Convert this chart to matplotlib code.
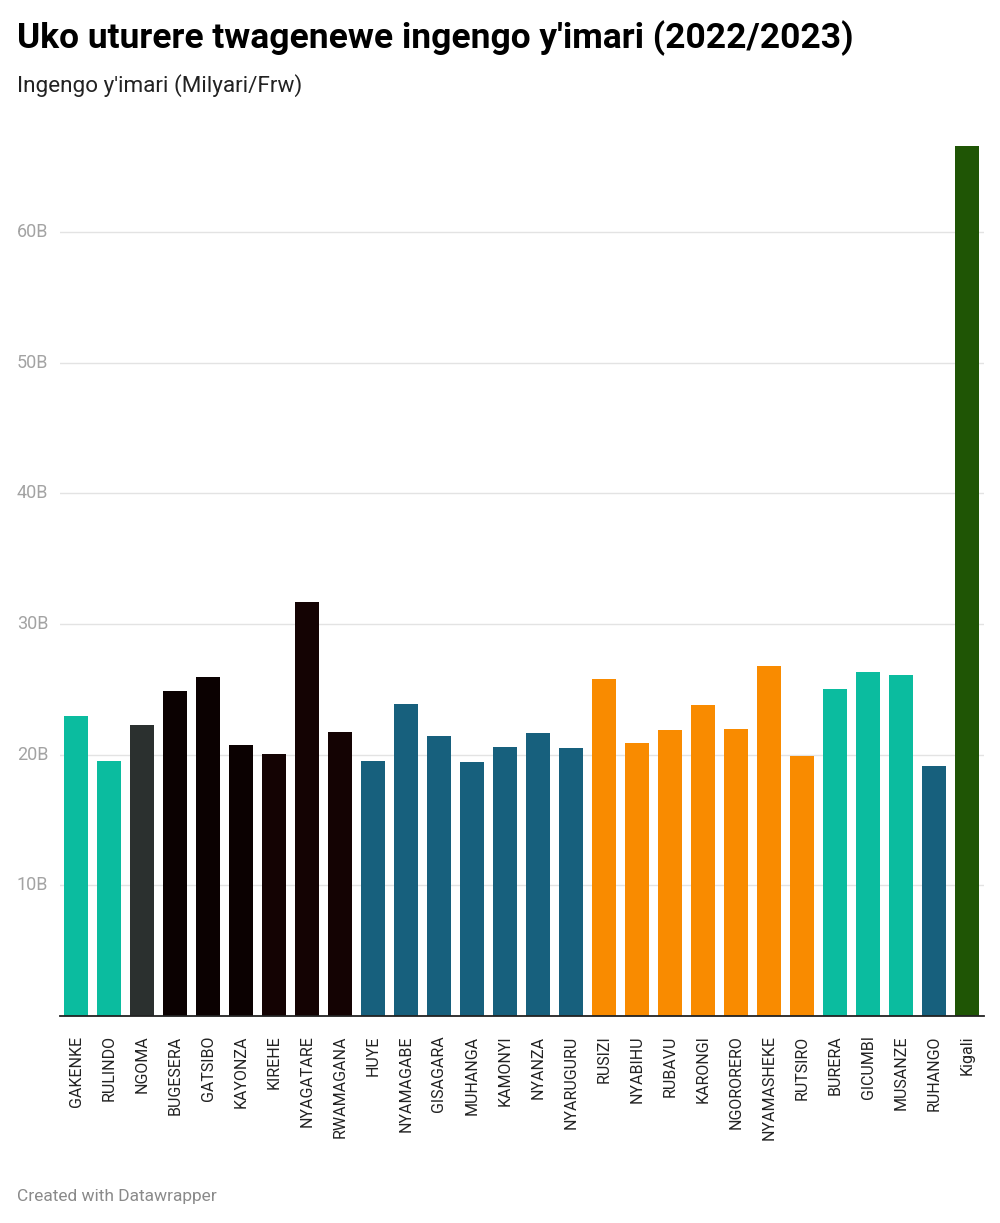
import matplotlib
matplotlib.use("Agg")
import matplotlib.pyplot as plt
import matplotlib.transforms as mtransforms
from matplotlib import font_manager

districts = ["GAKENKE", "RULINDO", "NGOMA", "BUGESERA", "GATSIBO", "KAYONZA", "KIREHE",
             "NYAGATARE", "RWAMAGANA", "HUYE", "NYAMAGABE", "GISAGARA", "MUHANGA", "KAMONYI",
             "NYANZA", "NYARUGURU", "RUSIZI", "NYABIHU", "RUBAVU", "KARONGI", "NGORORERO",
             "NYAMASHEKE", "RUTSIRO", "BURERA", "GICUMBI", "MUSANZE", "RUHANGO", "Kigali"]
budget_billions = [22.95, 19.5, 22.3, 24.9, 25.95, 20.7, 20.05,
                   31.7, 21.7, 19.5, 23.9, 21.45, 19.4, 20.6,
                   21.65, 20.5, 25.75, 20.9, 21.9, 23.8, 21.95,
                   26.8, 19.9, 25.05, 26.3, 26.1, 19.15, 66.6]
bar_colors = ["#0bbc9f", "#0bbc9f", "#2b302f", "#0b0101", "#0b0101", "#0b0101", "#140303",
              "#140303", "#140303", "#17607d", "#17607d", "#17607d", "#17607d", "#17607d",
              "#17607d", "#17607d", "#f98b00", "#f98b00", "#f98b00", "#f98b00", "#f98b00",
              "#f98b00", "#f98b00", "#0bbc9f", "#0bbc9f", "#0bbc9f", "#17607d", "#1f5505"]
y_ticks = [10, 20, 30, 40, 50, 60]
y_tick_labels = ["10B", "20B", "30B", "40B", "50B", "60B"]

title = "Uko uturere twagenewe ingengo y'imari (2022/2023)"
subtitle = "Ingengo y'imari (Milyari/Frw)"
footer = "Created with Datawrapper"

plt.rcParams['font.family'] = ['Roboto', 'DejaVu Sans']
avail = {f.name for f in font_manager.fontManager.ttflist}
narrow = 'Liberation Sans Narrow' if 'Liberation Sans Narrow' in avail else 'Roboto'

W, H = 1000, 1223
fig = plt.figure(figsize=(W / 100, H / 100), dpi=100)

ymax = 68
px_per_unit = 13.07
ax_h_px = ymax * px_per_unit
ax_bottom_px = 1016
ax_left_px, ax_right_px = 59.5, 983.5
ax = fig.add_axes([ax_left_px / W, (H - ax_bottom_px) / H,
                   (ax_right_px - ax_left_px) / W, ax_h_px / H])

x = list(range(len(districts)))
ax.bar(x, budget_billions, width=0.72, color=bar_colors, zorder=3)
ax.set_xlim(-0.5, len(districts) - 0.5)
ax.set_ylim(0, ymax)

for s in ["top", "right", "left"]:
    ax.spines[s].set_visible(False)
ax.spines["bottom"].set_color("#222222")
ax.spines["bottom"].set_linewidth(1.3)
ax.spines["bottom"].set_zorder(4)

ax.set_yticks(y_ticks)
ax.set_yticklabels([])
ax.tick_params(axis="y", length=0)
ax.grid(axis="y", color="#e3e3e3", linewidth=1, zorder=0)

trans = mtransforms.blended_transform_factory(fig.transFigure, ax.transData)
for v, lab in zip(y_ticks, y_tick_labels):
    ax.text(17 / W, v, lab, transform=trans, ha="left", va="center",
            fontsize=13, color="#a3a3a3")

ax.set_xticks(x)
ax.set_xticklabels(districts, rotation=90, fontsize=11.5, family=[narrow, 'DejaVu Sans'],
                   color="#222222")
ax.tick_params(axis="x", length=0, pad=14)

fig.text(17 / W, 1 - 38 / H, title, fontsize=25.5, fontweight="bold", color="#000000",
         ha="left", va="center")
fig.text(17 / W, 1 - 86 / H, subtitle, fontsize=16.2, color="#222222", ha="left", va="center")
fig.text(17 / W, 1 - 1196 / H, footer, fontsize=12.5, color="#8a8a8a", ha="left", va="center")

fig.savefig("out.png", dpi=100)
